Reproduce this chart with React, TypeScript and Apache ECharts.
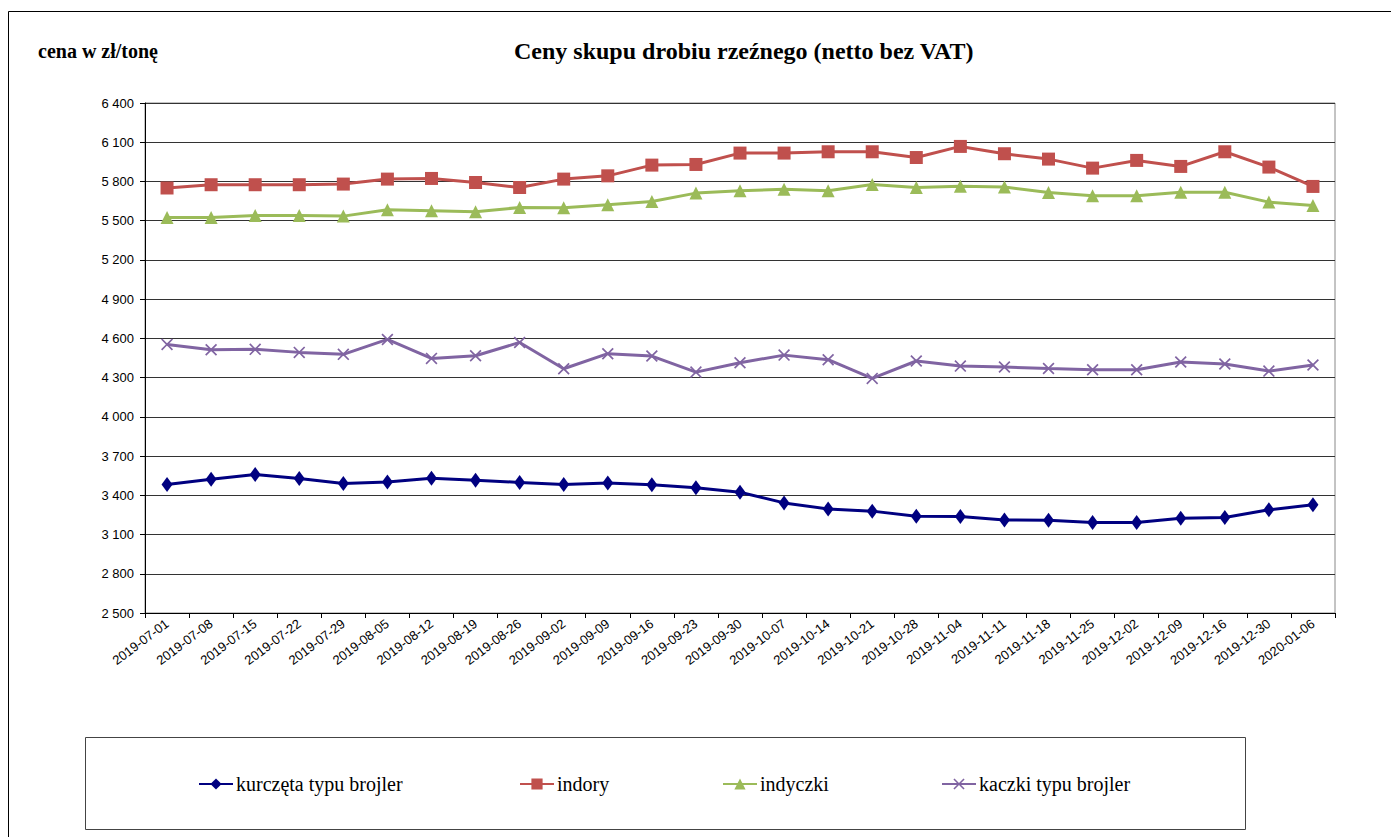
import React, { useEffect, useRef } from "react";
import * as echarts from "echarts";

const categories = [
  "2019-07-01", "2019-07-08", "2019-07-15", "2019-07-22", "2019-07-29", "2019-08-05", "2019-08-12",
  "2019-08-19", "2019-08-26", "2019-09-02", "2019-09-09", "2019-09-16", "2019-09-23", "2019-09-30",
  "2019-10-07", "2019-10-14", "2019-10-21", "2019-10-28", "2019-11-04", "2019-11-11", "2019-11-18",
  "2019-11-25", "2019-12-02", "2019-12-09", "2019-12-16", "2019-12-30", "2020-01-06",
];
const kurczeta = [3483, 3523, 3559, 3529, 3490, 3501, 3531, 3516, 3498, 3483, 3495, 3480, 3457, 3424, 3342, 3296, 3279, 3240, 3238, 3212, 3210, 3192, 3192, 3225, 3230, 3289, 3327];
const indory = [5750, 5775, 5775, 5775, 5780, 5818, 5823, 5792, 5754, 5818, 5843, 5925, 5930, 6017, 6017, 6027, 6027, 5983, 6068, 6012, 5971, 5902, 5961, 5915, 6027, 5910, 5762];
const indyczki = [5525, 5525, 5540, 5540, 5535, 5583, 5576, 5568, 5601, 5599, 5621, 5647, 5711, 5729, 5741, 5729, 5777, 5754, 5764, 5757, 5716, 5690, 5690, 5718, 5718, 5642, 5616];
const kaczki = [4554, 4513, 4516, 4493, 4478, 4592, 4447, 4467, 4569, 4368, 4483, 4465, 4342, 4414, 4472, 4437, 4294, 4427, 4388, 4381, 4370, 4360, 4360, 4419, 4404, 4350, 4396];

const seriesNames = ["kurczęta typu brojler", "indory", "indyczki", "kaczki typu brojler"];
const yMin = 2500;
const yMax = 6400;
const yStep = 300;

const SERIF = "Liberation Serif";
const SANS = "Liberation Sans";
const X_SYMBOL = "path://M0,1L1,0L5,4L9,0L10,1L6,5L10,9L9,10L5,6L1,10L0,9L4,5Z";

function fmt(v: number) {
  const t = Math.floor(v / 1000);
  const r = String(v % 1000).padStart(3, "0");
  return `${t} ${r}`;
}

export default function App() {
  const ref = useRef<HTMLDivElement>(null);
  useEffect(() => {
    if (!ref.current) return;
    const chart = echarts.init(ref.current, null, { renderer: "svg" });
    const legendLefts = [198, 519, 722, 941];
    const legendTextX = [236, 557, 760, 979];
    const mk = (name: string, data: number[], color: string, symbol: string, size: any) => ({
      name,
      type: "line",
      data,
      symbol,
      symbolSize: size,
      showAllSymbol: true,
      lineStyle: { color, width: 3 },
      itemStyle: { color },
      emphasis: { disabled: true },
    });
    chart.setOption({
      animation: false,
      backgroundColor: "#fff",
      title: [
        {
          text: "cena w zł/tonę",
          left: 38,
          top: 41,
          padding: 0,
          textStyle: { fontFamily: SERIF, fontSize: 20, fontWeight: "bold", color: "#000" },
        },
        {
          text: "Ceny skupu drobiu rzeźnego (netto bez VAT)",
          left: 514,
          top: 39,
          padding: 0,
          textStyle: { fontFamily: SERIF, fontSize: 24, fontWeight: "bold", color: "#000" },
        },
      ],
      legend: seriesNames.map((n, i) => ({
        data: [n],
        left: legendLefts[i],
        top: 777,
        padding: 0,
        itemWidth: 34,
        itemHeight: 14,
        formatter: () => "",
        selectedMode: false,
      })),
      grid: {
        left: 145,
        right: 56,
        top: 103,
        bottom: 224,
        show: true,
        borderColor: "#888",
        borderWidth: 1,
      },
      xAxis: {
        type: "category",
        data: categories,
        boundaryGap: true,
        axisLine: { lineStyle: { color: "#000", width: 1 } },
        axisTick: { show: true, length: 5, lineStyle: { color: "#000" } },
        axisLabel: {
          interval: 0,
          rotate: 37,
          fontFamily: SANS,
          fontSize: 13,
          color: "#000",
          margin: 9,
        },
        splitLine: { show: false },
      },
      yAxis: {
        type: "value",
        min: yMin,
        max: yMax,
        interval: yStep,
        axisLine: { show: true, lineStyle: { color: "#000", width: 1 } },
        axisTick: { show: true, length: 5, lineStyle: { color: "#000" } },
        axisLabel: {
          formatter: (v: number) => fmt(v),
          fontFamily: SANS,
          fontSize: 13,
          color: "#000",
          margin: 11,
        },
        splitLine: { show: true, lineStyle: { color: "#333", width: 1 } },
      },
      series: [
        mk(seriesNames[0], kurczeta, "#000080", "diamond", [11, 15]),
        mk(seriesNames[1], indory, "#C0504D", "rect", 13),
        mk(seriesNames[2], indyczki, "#9BBB59", "triangle", 13),
        mk(seriesNames[3], kaczki, "#8064A2", X_SYMBOL, 12),
      ],
      graphic: [
        {
          type: "rect",
          shape: { x: 8.5, y: 11.5, width: 1400, height: 900 },
          style: { fill: "none", stroke: "#000", lineWidth: 1 },
          silent: true,
          z: -1,
        },
        {
          type: "rect",
          shape: { x: 85.5, y: 737.5, width: 1160, height: 92 },
          style: { fill: "none", stroke: "#444", lineWidth: 1 },
          silent: true,
          z: -1,
        },
        ...seriesNames.map((n, i) => ({
          type: "text",
          x: legendTextX[i],
          y: 784,
          silent: true,
          style: {
            text: n,
            fontFamily: SERIF,
            fontSize: 20,
            fill: "#000",
            verticalAlign: "middle",
            align: "left",
          },
        })),
      ],
    });
    return () => chart.dispose();
  }, []);
  return (
    <div
      ref={ref}
      style={{ position: "fixed", left: 0, top: 0, width: 1391, height: 837, background: "#fff" }}
    />
  );
}
